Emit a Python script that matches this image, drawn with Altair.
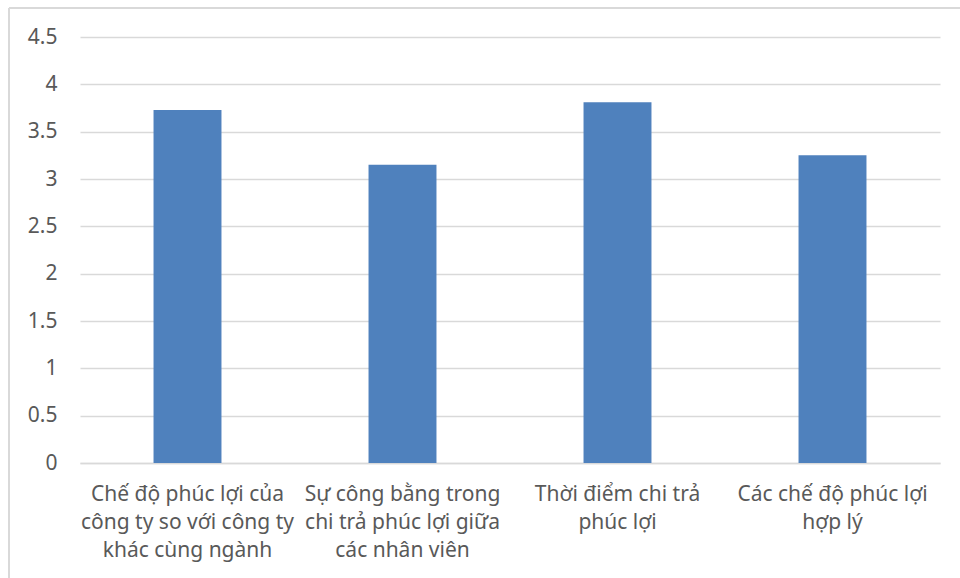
import altair as alt
import pandas as pd

categories = [
    "Chế độ phúc lợi của\ncông ty so với công ty\nkhác cùng ngành",
    "Sự công bằng trong\nchi trả phúc lợi giữa\ncác nhân viên",
    "Thời điểm chi trả\nphúc lợi",
    "Các chế độ phúc lợi\nhợp lý",
]
values = [3.73, 3.15, 3.81, 3.25]
y_ticks = [0, 0.5, 1, 1.5, 2, 2.5, 3, 3.5, 4, 4.5]

df = pd.DataFrame({"category": categories, "value": values})

FONT = "Noto Sans"

bars = alt.Chart(df).mark_bar(color="#4f81bd").encode(
    x=alt.X(
        "category:N",
        sort=None,
        scale=alt.Scale(paddingInner=0.684, paddingOuter=0.342),
        axis=alt.Axis(
            title=None,
            labelAngle=0,
            labelExpr="split(datum.label, '\\n')",
            labelFont=FONT,
            labelFontSize=21,
            labelColor="#595959",
            labelLineHeight=28,
            labelPadding=20,
            labelLimit=300,
            ticks=False,
            domain=True,
            domainColor="#d9d9d9",
            domainWidth=1.5,
            grid=False,
        ),
    ),
    y=alt.Y(
        "value:Q",
        scale=alt.Scale(domain=[0, 4.5], nice=False),
        axis=alt.Axis(
            title=None,
            values=y_ticks,
            labelExpr="format(datum.value, '')",
            labelFont=FONT,
            labelFontSize=21,
            labelColor="#595959",
            labelPadding=23,
            ticks=False,
            domain=False,
            grid=True,
            gridColor="#d9d9d9",
            gridWidth=1.5,
        ),
    ),
)

frame = alt.Chart(df).mark_rule(color="#d9d9d9", strokeWidth=1.5).encode(
    x=alt.value(-71), x2=alt.value(-71), y=alt.value(-29), y2=alt.value(560)
)
frame_top = alt.Chart(df).mark_rule(color="#d9d9d9", strokeWidth=1.5).encode(
    x=alt.value(-71), x2=alt.value(900), y=alt.value(-29), y2=alt.value(-29)
)

chart = alt.layer(frame, frame_top, bars).properties(
    width=860,
    height=426,
    padding={"left": 80, "top": 37, "right": 20, "bottom": 115},
    autosize=alt.AutoSizeParams(type="none"),
    background="white",
).configure_view(stroke=None)

chart.save("out.html", embed_options={"renderer": "svg", "actions": False})
